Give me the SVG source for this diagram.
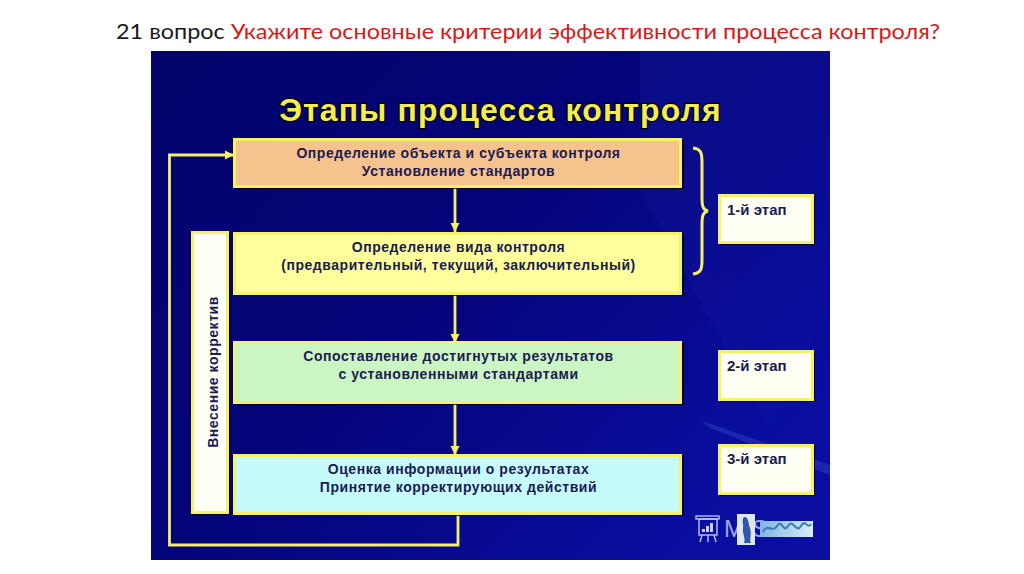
<svg xmlns="http://www.w3.org/2000/svg" width="1024" height="574" viewBox="0 0 1024 574">
<defs>
<linearGradient id="bg" x1="0" y1="0" x2="1" y2="0.7"><stop offset="0" stop-color="#03036a"/><stop offset="0.5" stop-color="#04047a"/><stop offset="1" stop-color="#0a0fa2"/></linearGradient>
<linearGradient id="sheen" x1="0" y1="0" x2="1" y2="1"><stop offset="0" stop-color="#2a3ac0" stop-opacity="0.3"/><stop offset="1" stop-color="#2a3ac0" stop-opacity="0"/></linearGradient>
<linearGradient id="pat" x1="0" y1="0" x2="1" y2="0"><stop offset="0" stop-color="#7fb6e6"/><stop offset="1" stop-color="#d7ecf8"/></linearGradient>
<marker id="ah" markerUnits="userSpaceOnUse" markerWidth="10" markerHeight="10" refX="9" refY="5" orient="auto"><path d="M0 0.500L9 5L0 9.500Z" fill="#f5ef6a"/></marker>
</defs>
<style>
.b{stroke:#f7f16a;stroke-width:3}
.s{fill:#000014;opacity:.8}
.t{font-family:"Liberation Sans",Arial,sans-serif;font-weight:700;font-size:14px;letter-spacing:.55px;fill:#1b1b52;text-anchor:middle}
.e{font-family:"Liberation Sans",Arial,sans-serif;font-weight:700;font-size:15px;fill:#1b1b52}
.c{fill:none;stroke:#f5ef6a;stroke-width:2.800}
.w{font-family:"Liberation Sans",Arial,sans-serif;font-size:24px;fill:#9ea6e0}
</style>
<rect width="1024" height="574" fill="#fff"/>
<text id="title" x="116" y="39" font-family="Lato,Open Sans,sans-serif" font-size="21" textLength="824" lengthAdjust="spacingAndGlyphs" fill="#1a1a1a">21 вопрос <tspan fill="#d81818">Укажите основные критерии эффективности процесса контроля?</tspan></text>
<rect x="151" y="51" width="679" height="509" fill="url(#bg)"/>
<path d="M640 51H830V300L770 430L640 190Z" fill="url(#sheen)" opacity=".5"/>
<path d="M700 420L830 465V475L710 428Z" fill="#4a5ccc" opacity=".3"/>
<text id="heading" x="500.500" y="120.500" font-family="Liberation Sans,Arial,sans-serif" font-weight="700" font-size="32" letter-spacing="1.100" text-anchor="middle" fill="#f3ed4e" stroke="#00000f" stroke-width="2.500" style="paint-order:stroke">Этапы процесса контроля</text>
<g id="connectors">
<path class="c" d="M455 187V232" marker-end="url(#ah)"/>
<path class="c" d="M455 294V343" marker-end="url(#ah)"/>
<path class="c" d="M455 403V455" marker-end="url(#ah)"/>
<path class="c" d="M458 514V545H169.500V155H234" marker-end="url(#ah)"/>
</g>
<g id="node-step1"><rect class="s" x="236" y="140" width="448" height="49"/><rect class="b" x="234.500" y="139.500" width="446" height="47" fill="#f6c38f"/>
<text class="t" x="458.500" y="158">Определение объекта и субъекта контроля</text><text class="t" x="458.500" y="176">Установление стандартов</text></g>
<g id="node-step2"><rect class="s" x="236" y="234" width="448" height="62"/><rect class="b" x="234.500" y="233.500" width="446" height="60" fill="#ffff9c"/>
<text class="t" x="458.500" y="252">Определение вида контроля</text><text class="t" x="458.500" y="270">(предварительный, текущий, заключительный)</text></g>
<g id="node-step3"><rect class="s" x="236" y="343" width="448" height="62"/><rect class="b" x="234.500" y="342.500" width="446" height="60" fill="#ccf5c4"/>
<text class="t" x="458.500" y="361">Сопоставление достигнутых результатов</text><text class="t" x="458.500" y="379">с установленными стандартами</text></g>
<g id="node-step4"><rect class="s" x="236" y="456" width="448" height="60"/><rect class="b" x="234.500" y="455.500" width="446" height="58" fill="#c6fbfb"/>
<text class="t" x="458.500" y="474">Оценка информации о результатах</text><text class="t" x="458.500" y="492">Принятие корректирующих действий</text></g>
<g id="node-correction"><rect class="s" x="193" y="233" width="37" height="282"/><rect class="b" x="192.500" y="232.500" width="35" height="280" fill="#fffff6"/>
<text class="t" transform="translate(218 372) rotate(-90)">Внесение корректив</text></g>
<g id="brace"><path d="M693 148C701 149 702 153 702 162V198C702 206 703 210 708 211C703 212 702 216 702 224V260C702 269 701 273 693 274" fill="none" stroke="#f5ef6a" stroke-width="3"/></g>
<g id="node-stage1"><rect class="s" x="720" y="196" width="95" height="49"/><rect class="b" x="719.500" y="195.500" width="93" height="47" fill="#fffff4"/><text class="e" x="727" y="215">1-й этап</text></g>
<g id="node-stage2"><rect class="s" x="720" y="352" width="95" height="50"/><rect class="b" x="719.500" y="351.500" width="93" height="48" fill="#fffff4"/><text class="e" x="727" y="371">2-й этап</text></g>
<g id="node-stage3"><rect class="s" x="720" y="446" width="95" height="50"/><rect class="b" x="719.500" y="445.500" width="93" height="48" fill="#fffff4"/><text class="e" x="727" y="464">3-й этап</text></g>
<g id="watermark">
<g fill="none" stroke="#c9cff0" stroke-width="1.300"><rect x="696" y="516" width="23" height="3"/><rect x="699" y="519" width="18" height="16"/><path d="M702 535L700 542M708 535V542M714 535L716 542"/></g>
<path d="M702 532V529H705V532ZM706 532V526H709V532ZM710 532V523H713V532Z" fill="#c9cff0"/>
<text class="w" x="724" y="537">M</text>
<text class="w" x="752" y="537">S</text>
<rect x="760" y="521" width="53" height="16" fill="url(#pat)"/>
<rect x="737" y="514" width="18" height="31" fill="#dfe6f6"/>
<path d="M744 517C749 517 748 523 750 528C752 534 749 540 751 543H744C746 538 742 533 743 528C744 524 741 520 744 517Z" fill="#2f58a8"/>
<path d="M763 532C768 522 772 534 777 526S783 534 788 526S796 534 801 526S807 530 811 524" fill="none" stroke="#3f7fb8" stroke-width="2.200"/>
</g>
</svg>
